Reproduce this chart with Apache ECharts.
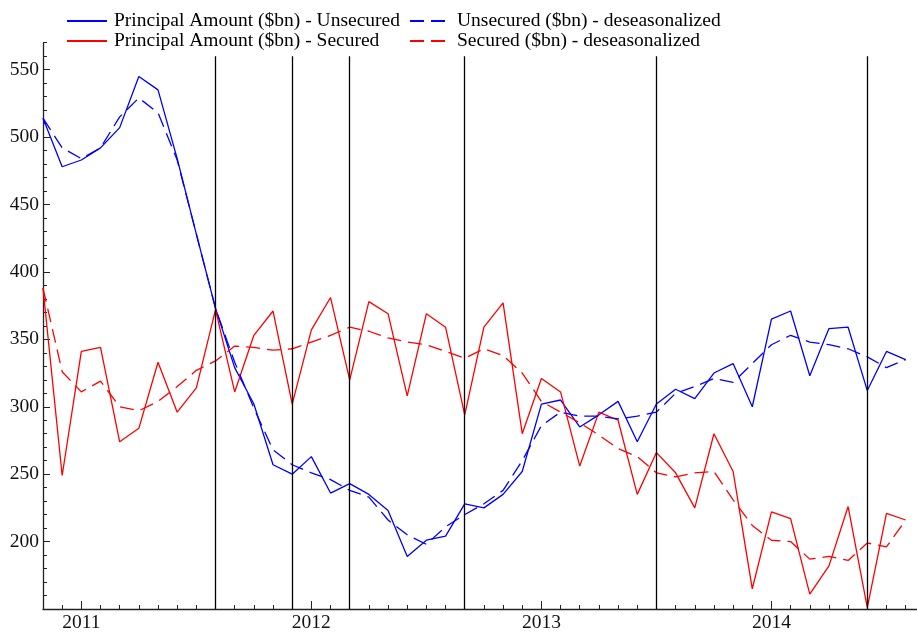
<!DOCTYPE html>
<html>
<head>
<meta charset="utf-8">
<script src="https://cdn.jsdelivr.net/npm/echarts@6/dist/echarts.min.js"></script>
<style>html,body{margin:0;padding:0;background:#fff;overflow:hidden;width:917px;height:633px}#c{width:925px;height:633px}</style>
</head>
<body>
<div id="c"></div>
<script>
const categories = ['2010-11','2010-12',
 '2011-01','2011-02','2011-03','2011-04','2011-05','2011-06','2011-07','2011-08','2011-09','2011-10','2011-11','2011-12',
 '2012-01','2012-02','2012-03','2012-04','2012-05','2012-06','2012-07','2012-08','2012-09','2012-10','2012-11','2012-12',
 '2013-01','2013-02','2013-03','2013-04','2013-05','2013-06','2013-07','2013-08','2013-09','2013-10','2013-11','2013-12',
 '2014-01','2014-02','2014-03','2014-04','2014-05','2014-06','2014-07','2014-08','2014-09'];

const unsecured = [514,478,483,492,507,545,535,484,428,373,329,302,257,250,263,236,243,235,223,189,201,204,228,225,235,252,302,305,285,294,304,274,302,313,306,325,332,300,365,371,323,358,359,312,341,335];
const unsecuredSA = [514,492,484,492,515,529,518,483,428,373,333,299,268,257,251,246,238,233,216,205,198,211,220,228,238,260,286,296,293,293,291,293,296,310,315,321,318,332,346,353,348,346,343,337,329,335];
const secured = [388,249,341,344,274,284,333,296,314,372,311,353,371,302,357,381,320,378,369,308,369,359,294,359,377,280,321,311,256,296,290,235,266,251,225,280,252,165,222,217,161,182,226,151,221,216];
const securedSA = [388,326,311,319,300,297,304,315,327,334,345,344,342,343,348,353,359,356,351,348,346,341,336,343,338,325,304,296,288,279,269,263,251,248,251,252,231,212,201,200,187,189,186,199,196,216];

const eventMonths = ['2011-08','2011-12','2012-03','2012-09','2013-07','2014-06'];
const yMajorTicks = [200,250,300,350,400,450,500,550];
const yMinorTicks = [160,170,180,190,200,210,220,230,240,250,260,270,280,290,300,310,320,330,340,350,360,370,380,390,400,410,420,430,440,450,460,470,480,490,500,510,520,530,540,550,560,570];

const names = ['Principal Amount ($bn) - Unsecured','Principal Amount ($bn) - Secured','Unsecured ($bn) - deseasonalized','Secured ($bn) - deseasonalized'];

const FONT = 'Liberation Serif';
const FS = 19.5;
const chart = echarts.init(document.getElementById('c'), null, {renderer:'canvas'});

function lineSeries(name, data, color, dashed) {
  return {
    name, type:'line', data, xAxisIndex:0, yAxisIndex:0,
    symbol:'none', animation:false, z:3,
    lineStyle:{color, width:1.3, type: dashed ? [14,7] : 'solid'},
    itemStyle:{color}
  };
}

const isJan = (idx) => categories[idx].slice(5) === '01';

const series = [
  lineSeries(names[0], unsecured, '#0000ff', false),
  lineSeries(names[1], secured, '#ff0000', false),
  lineSeries(names[2], unsecuredSA, '#0000ff', true),
  lineSeries(names[3], securedSA, '#ff0000', true)
];
series[0].markLine = {
  symbol:['none','none'], silent:true, animation:false,
  label:{show:false},
  lineStyle:{color:'#000', width:1.3, type:'solid'},
  data: eventMonths.map(m => [{coord:[m,150]},{coord:[m,560]}])
};

const legendCommon = {
  orient:'vertical', top:6, itemGap:0, itemWidth:40, itemHeight:14,
  itemStyle:{color:'transparent', borderColor:'transparent', borderWidth:0, opacity:0},
  textStyle:{fontFamily:FONT, fontSize:FS, color:'#000', lineHeight:19.5, padding:[0,0,0,2]},
  selectedMode:false
};

chart.setOption({
  backgroundColor:'#fff',
  animation:false,
  textStyle:{fontFamily:FONT},
  legend:[
    Object.assign({left:61, data:[names[0], names[1]]}, legendCommon),
    Object.assign({left:404, data:[names[2], names[3]]}, legendCommon)
  ],
  grid:{left:43, width:881.8, top:42.7, height:566.3, containLabel:false},
  xAxis:[
    {type:'category', data:categories, boundaryGap:false, position:'bottom',
     axisLine:{show:true, onZero:false, lineStyle:{color:'#222', width:1.3}},
     axisTick:{show:true, inside:true, length:4, interval:0, lineStyle:{color:'#222', width:1}},
     axisLabel:{show:false}, splitLine:{show:false}},
    {type:'category', data:categories, boundaryGap:false, position:'bottom',
     axisLine:{show:false, onZero:false},
     axisTick:{show:true, inside:true, length:8, interval:(idx)=>isJan(idx), lineStyle:{color:'#222', width:1}},
     axisLabel:{show:true, interval:(idx)=>isJan(idx), formatter:(v)=>v.slice(0,4), fontFamily:FONT, fontSize:FS, color:'#111', margin:4},
     splitLine:{show:false}}
  ],
  yAxis:[
    {type:'value', min:150, max:570, position:'left',
     axisLine:{show:true, onZero:false, lineStyle:{color:'#222', width:1.3}},
     axisTick:{show:true, inside:true, length:7, customValues:yMajorTicks, lineStyle:{color:'#222', width:1}},
     axisLabel:{show:true, customValues:yMajorTicks, fontFamily:FONT, fontSize:FS, color:'#111', margin:4},
     splitLine:{show:false}},
    {type:'value', min:150, max:570, position:'left',
     axisLine:{show:false},
     axisTick:{show:true, inside:true, length:4, customValues:yMinorTicks, lineStyle:{color:'#222', width:1}},
     axisLabel:{show:false}, splitLine:{show:false}}
  ],
  series
});
</script>
</body>
</html>
